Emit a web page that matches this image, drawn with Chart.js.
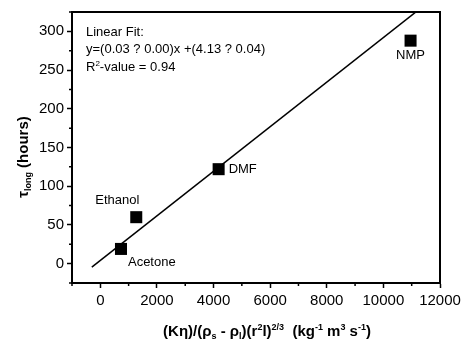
<!DOCTYPE html>
<html>
<head>
<meta charset="utf-8">
<script src="https://cdn.jsdelivr.net/npm/chart.js@4/dist/chart.umd.min.js"></script>
<style>
  html, body { margin: 0; padding: 0; background: #fff; }
  #wrap { width: 461px; height: 339px; }
</style>
</head>
<body>
<div id="wrap"><canvas id="chart"></canvas></div>
<script>
// measured points
const solvents = ["Acetone", "Ethanol", "DMF", "NMP"];
const xValues = [730, 1270, 4180, 10960];
const yValues = [19, 60, 122, 288];

// linear fit line end points
const fitX = [-300, 11400];
const fitY = [-4.6, 332.3];

const annotationLines = ["Linear Fit:", "y=(0.03 ? 0.00)x +(4.13 ? 0.04)", "R2-value = 0.94"];

// where each label sits relative to its marker
const labelOffsets = {
  Acetone: { dx: 7, dy: 13, align: "left" },
  Ethanol: { dx: -19, dy: -17, align: "center" },
  DMF: { dx: 10, dy: 0, align: "left" },
  NMP: { dx: 0, dy: 15, align: "center" },
};

const FONT = "'Liberation Sans', Arial, sans-serif";

// draws text made of normal / sup / sub pieces
function richWidth(ctx, parts, size, bold) {
  let w = 0;
  parts.forEach(([t, k]) => {
    const s = k === "n" ? size : Math.round(size * 0.62);
    ctx.font = (bold ? "bold " : "") + s + "px " + FONT;
    w += ctx.measureText(t).width;
  });
  return w;
}
function richDraw(ctx, parts, x, y, size, bold) {
  let cx = x;
  parts.forEach(([t, k]) => {
    const s = k === "n" ? size : Math.round(size * 0.62);
    ctx.font = (bold ? "bold " : "") + s + "px " + FONT;
    let dy = 0;
    if (k === "sup") dy = -size * 0.38;
    if (k === "sub") dy = size * 0.22;
    ctx.fillText(t, cx, y + dy);
    cx += ctx.measureText(t).width;
  });
}

const extras = {
  id: "extras",
  afterDraw(chart) {
    const { ctx, chartArea: a, scales } = chart;
    ctx.save();

    // frame
    ctx.strokeStyle = "#000";
    ctx.lineWidth = 2;
    ctx.strokeRect(a.left, a.top, a.right - a.left, a.bottom - a.top);

    // minor ticks (shorter than the major ones)
    ctx.lineWidth = 1.5;
    ctx.beginPath();
    scales.x.ticks.forEach((t) => {
      if (t.value % 2000 !== 0) {
        const px = scales.x.getPixelForValue(t.value);
        ctx.moveTo(px, a.bottom);
        ctx.lineTo(px, a.bottom + 3);
      }
    });
    scales.y.ticks.forEach((t) => {
      if (t.value % 50 !== 0) {
        const py = scales.y.getPixelForValue(t.value);
        ctx.moveTo(a.left, py);
        ctx.lineTo(a.left - 3, py);
      }
    });
    ctx.stroke();

    // point labels
    ctx.fillStyle = "#000";
    ctx.font = "13px " + FONT;
    ctx.textBaseline = "middle";
    solvents.forEach((name, i) => {
      const o = labelOffsets[name];
      ctx.textAlign = o.align;
      ctx.fillText(name, scales.x.getPixelForValue(xValues[i]) + o.dx,
        scales.y.getPixelForValue(yValues[i]) + o.dy);
    });

    // fit annotation
    ctx.textAlign = "left";
    ctx.textBaseline = "alphabetic";
    ctx.font = "13px " + FONT;
    const ax = a.left + 14;
    ctx.fillText(annotationLines[0], ax, 36);
    ctx.fillText(annotationLines[1], ax, 53);
    richDraw(ctx, [["R", "n"], ["2", "sup"], ["-value = 0.94", "n"]], ax, 71, 13, false);

    // x title
    const xParts = [["(K\u03b7)/(\u03c1", "n"], ["s", "sub"], [" - \u03c1", "n"], ["l", "sub"],
      [")(r", "n"], ["2", "sup"], ["l)", "n"], ["2/3", "sup"], ["  (kg", "n"], ["-1", "sup"],
      [" m", "n"], ["3", "sup"], [" s", "n"], ["-1", "sup"], [")", "n"]];
    const xw = richWidth(ctx, xParts, 15, true);
    richDraw(ctx, xParts, 267 - xw / 2, 336, 15, true);

    // y title, rotated
    const yParts = [["\u03c4", "n"], ["long", "sub"], [" (hours)", "n"]];
    const yw = richWidth(ctx, yParts, 15, true);
    ctx.translate(28, 157);
    ctx.rotate(-Math.PI / 2);
    richDraw(ctx, yParts, -yw / 2, 0, 15, true);

    ctx.restore();
  },
};

new Chart(document.getElementById("chart"), {
  type: "scatter",
  data: {
    datasets: [
      {
        label: "fit",
        type: "line",
        data: fitX.map((x, i) => ({ x, y: fitY[i] })),
        borderColor: "#000",
        borderWidth: 1.5,
        pointRadius: 0,
        fill: false,
      },
      {
        label: "solvents",
        data: xValues.map((x, i) => ({ x, y: yValues[i] })),
        pointStyle: "rect",
        pointRadius: 8.5,
        pointHoverRadius: 8.5,
        backgroundColor: "#000",
        borderColor: "#000",
        borderWidth: 0,
      },
    ],
  },
  options: {
    responsive: true,
    maintainAspectRatio: false,
    animation: false,
    events: [],
    layout: { padding: { top: 12, right: 21, left: 0, bottom: 0 } },
    plugins: { legend: { display: false }, tooltip: { enabled: false } },
    scales: {
      x: {
        type: "linear",
        min: -1000,
        max: 12000,
        afterFit: (s) => { s.height = 56; s.paddingRight = 0; s.paddingLeft = 0; },
        border: { display: true, color: "#000", width: 2 },
        grid: {
          drawOnChartArea: false, drawTicks: true, tickLength: 5, tickWidth: 1.5,
          tickColor: (c) => (c.tick && c.tick.value % 2000 === 0 ? "#000" : "rgba(0,0,0,0)"),
        },
        ticks: {
          stepSize: 1000,
          autoSkip: false,
          maxRotation: 0,
          color: "#000",
          padding: 4,
          font: { family: FONT, size: 15 },
          callback: (v) => (v % 2000 === 0 ? String(v) : ""),
        },
      },
      y: {
        type: "linear",
        min: -25,
        max: 325,
        afterFit: (s) => { s.width = 72; s.paddingTop = 0; s.paddingBottom = 0; },
        border: { display: true, color: "#000", width: 2 },
        grid: {
          drawOnChartArea: false, drawTicks: true, tickLength: 5, tickWidth: 1.5,
          tickColor: (c) => (c.tick && c.tick.value % 50 === 0 ? "#000" : "rgba(0,0,0,0)"),
        },
        ticks: {
          stepSize: 25,
          autoSkip: false,
          color: "#000",
          padding: 3,
          font: { family: FONT, size: 15 },
          callback: (v) => (v % 50 === 0 ? String(v) : ""),
        },
      },
    },
  },
  plugins: [extras],
});
</script>
</body>
</html>
